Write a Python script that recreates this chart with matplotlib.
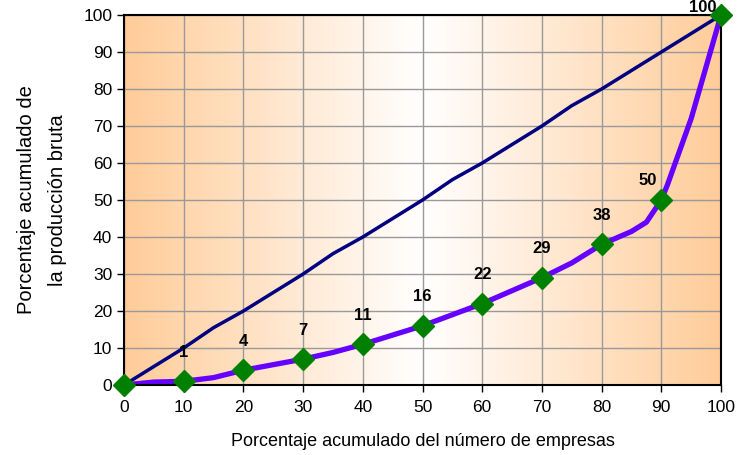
import matplotlib.pyplot as plt
import numpy as np
from matplotlib.colors import LinearSegmentedColormap

plt.rcParams['font.family'] = ['Liberation Sans', 'DejaVu Sans']

# Data
empresas = [0, 5, 10, 15, 20, 25, 30, 35, 40, 45, 50, 55, 60, 65, 70, 75, 80, 85, 87.5, 90, 91, 95, 100]
produccion = [0, 0.8, 1, 2, 4, 5.5, 7, 8.8, 11, 13.5, 16, 19, 22, 25.5, 29, 33, 38, 41.5, 44, 50, 54, 72, 100]
marker_x = [0, 10, 20, 30, 40, 50, 60, 70, 80, 90, 100]
marker_y = [0, 1, 4, 7, 11, 16, 22, 29, 38, 50, 100]
equidad_x = [0, 5, 10, 15, 20, 25, 30, 35, 40, 45, 50, 55, 60, 65, 70, 75, 80, 85, 90, 95, 100]
equidad_y = [0, 5, 10, 15.5, 20, 25, 30, 35.5, 40, 45, 50, 55.5, 60, 65, 70, 75.5, 80, 85, 90, 95, 100]

navy = "#000080"
purple = "#6600ff"
green = "#008000"

fig = plt.figure(figsize=(7.43, 4.55), dpi=100)
ax = fig.add_axes([0.1669, 0.1538, 0.9704 - 0.1669, 0.967 - 0.1538])

# Horizontal gradient background: orange at the edges, white in the middle
cmap = LinearSegmentedColormap.from_list("bg", ["#ffcc99", "#ffffff", "#ffcc99"])
grad = np.linspace(0, 1, 256).reshape(1, -1)
ax.imshow(grad, cmap=cmap, extent=[0, 100, 0, 100], aspect='auto', zorder=0)

ax.set_xlim(0, 100)
ax.set_ylim(0, 100)
ax.set_xticks(range(0, 101, 10))
ax.set_yticks(range(0, 101, 10))
ax.grid(True, color="#999999", linewidth=1)
for line in ax.get_xgridlines() + ax.get_ygridlines():
    line.set_zorder(1)

ax.plot(equidad_x, equidad_y, color=navy, lw=2.5, zorder=3, solid_capstyle='round')
ax.plot(empresas, produccion, color=purple, lw=3.8, zorder=4, solid_capstyle='round')
ax.plot(marker_x, marker_y, ls='none', marker='D', markersize=11, color=green,
        zorder=8, clip_on=False)

for xv, yv in zip(marker_x, marker_y):
    if xv == 0:
        continue
    if xv == 90:
        px, py = xv - 2.2, yv + 5.4
    elif xv == 100:
        px, py = 97, 102
    else:
        px, py = xv, yv + 7.8
    ax.text(px, py, str(yv), ha='center', va='center', fontsize=12,
            fontweight='bold', color='black', zorder=9, clip_on=False)

for s in ax.spines.values():
    s.set_color("black")
    s.set_linewidth(1.5)
    s.set_zorder(7)

ax.tick_params(axis='both', direction='out', length=5, width=1, labelsize=12.5, colors='black')
ax.tick_params(axis='x', pad=6)
ax.set_xlabel("Porcentaje acumulado del número de empresas", fontsize=13, labelpad=13)
ax.set_ylabel("Porcentaje acumulado de\nla producción bruta", fontsize=14.5,
              labelpad=12, linespacing=1.75)

fig.savefig("out.png", dpi=100)
